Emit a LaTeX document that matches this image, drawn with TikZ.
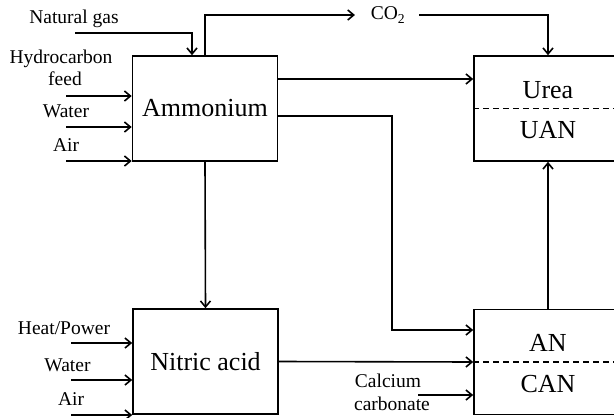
\documentclass[tikz,border=0pt]{standalone}
\usepackage{fontspec}
\setmainfont{Liberation Serif}
\usetikzlibrary{arrows.meta}
\tikzset{blk/.style={draw,rectangle,minimum width=145pt,minimum height=105pt,inner sep=0pt,font=\fontsize{26}{29}\selectfont},lbl/.style={anchor=base,inner sep=0pt,font=\fontsize{19.5}{22}\selectfont},big/.style={anchor=base,inner sep=0pt,font=\fontsize{26}{29}\selectfont},sep/.style={dash pattern=on 6pt off 4pt},arr/.style={-{Straight Barb[length=6pt,width=10pt,line width=1.6pt]}}}
\begin{document}
\begin{tikzpicture}[x=1pt,y=-1pt,line width=1.6pt]
\useasboundingbox(0,0)rectangle(614,418);\clip(0,0)rectangle(614,418);
\node[blk](amm)at(205,108.5){Ammonium};\node[blk](nit)at(205.5,361.5){Nitric acid};
\node[blk,minimum width=148pt](urea)at(548,108.5){};\node[blk,minimum width=148pt](an)at(548,362){};
\draw[sep](urea.west)--(urea.east);\draw[sep](an.west)--(an.east);
\node[big](tu)at(548,98){Urea};\node[big](tuan)at(548,138){UAN};
\node[big](tan)at(548,351){AN};\node[big](tcan)at(548,392){CAN};
% labels
\node[lbl](ng)at(74,23){Natural gas};\node[lbl](hc)at(61,63){Hydrocarbon};\node[lbl](fd)at(65,85){feed};
\node[lbl](w1)at(66,117){Water};\node[lbl](a1)at(66,151){Air};
\node[lbl](hp)at(64,334){Heat/Power};\node[lbl](w2)at(67.5,371){Water};\node[lbl](a2)at(71,405){Air};
\node[lbl](cc)at(388,387){Calcium};\node[lbl](cb)at(392,410){carbonate};
\node[inner sep=0pt,font=\fontsize{19.5}{22}\selectfont](co2)at(388,15){CO\textsubscript{2}};
% inputs
\coordinate(ngs)at(75,33);\draw[arr](ngs)-|([xshift=-13pt]amm.north);
\foreach\i/\y in{1/96,2/127,3/161}{\coordinate(ia\i)at(66,\y);\draw[arr](ia\i)--(ia\i-|amm.west);}
\foreach\i/\y in{1/343,2/380,3/415}{\coordinate(in\i)at(71,\y);\draw[arr](in\i)--(in\i-|nit.west);}
\coordinate(ccs)at(418,395);\draw[arr](ccs)--(ccs-|an.west);
% flows
\draw[arr](amm.north)|-([xshift=-15pt]co2.west);
\draw[arr]([xshift=13pt]co2.east)-|(urea.north);
\draw[arr]([yshift=29.5pt]amm.east)--([yshift=29.5pt]urea.west);
\draw[arr]([yshift=-7.5pt]amm.east)-|(392,330)--([yshift=32pt]an.west);
\draw[arr](amm.south)--(nit.north);
\draw[arr](nit.east)--(an.west);
\draw[arr](an.north)--(urea.south);
\end{tikzpicture}
\end{document}
